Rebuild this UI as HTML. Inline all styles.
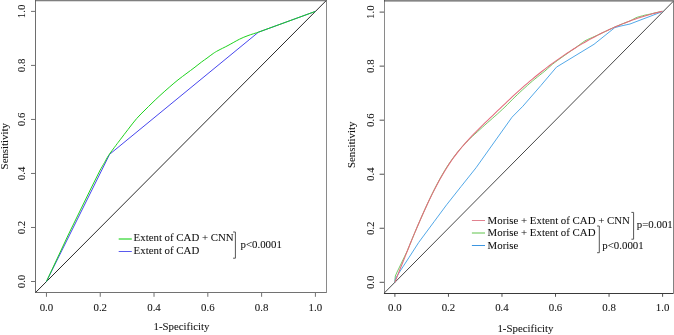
<!DOCTYPE html>
<html><head><meta charset="utf-8"><style>
html,body{margin:0;padding:0;background:#fff;}
svg{display:block;will-change:transform;}
text{font-family:"Liberation Serif",serif;font-size:10.85px;fill:#111;stroke:#111;stroke-width:0.06px;}
</style></head><body>
<svg width="674" height="335" viewBox="0 0 674 335">
<rect width="674" height="335" fill="#fff"/>
<!-- LEFT CHART -->
<g fill="none" stroke-width="1">
<line x1="35.5" y1="0" x2="35.5" y2="293" stroke="#6e6e6e"/>
<line x1="35" y1="292.5" x2="327" y2="292.5" stroke="#727272"/>
<line x1="35" y1="0.72" x2="327" y2="0.72" stroke="#5c5c5c"/>
<line x1="326.5" y1="0" x2="326.5" y2="293" stroke="#8a8a8a"/>
<line x1="35.7" y1="292.4" x2="326.2" y2="0.6" stroke="#2a2a2a"/>
<g stroke="#707070">
<line x1="46.45" y1="293" x2="46.45" y2="296.8" />
<line x1="31" y1="281.50" x2="35" y2="281.50" />
<line x1="100.24" y1="293" x2="100.24" y2="296.8" />
<line x1="31" y1="227.48" x2="35" y2="227.48" />
<line x1="154.03" y1="293" x2="154.03" y2="296.8" />
<line x1="31" y1="173.46" x2="35" y2="173.46" />
<line x1="207.82" y1="293" x2="207.82" y2="296.8" />
<line x1="31" y1="119.44" x2="35" y2="119.44" />
<line x1="261.61" y1="293" x2="261.61" y2="296.8" />
<line x1="31" y1="65.42" x2="35" y2="65.42" />
<line x1="315.40" y1="293" x2="315.40" y2="296.8" />
<line x1="31" y1="11.40" x2="35" y2="11.40" />
</g>
</g>
<polyline fill="none" stroke="#4646ee" stroke-width="1" points="46.45,281.50 109.60,154.30 258.40,32.20 315.40,11.40"/>
<path fill="none" stroke="#1ed21e" stroke-width="1" d="M46.45,281.50 L68.20,235.00 L91.20,188.00 L100.20,170.00 L100.20,170.00 C100.92,168.77 103.10,165.03 104.50,162.60 C105.90,160.17 106.70,158.27 108.60,155.40 C110.50,152.53 113.90,148.10 115.90,145.40 C117.90,142.70 118.58,141.85 120.60,139.20 C122.62,136.55 125.32,132.95 128.00,129.50 C130.68,126.05 133.87,121.75 136.70,118.50 C139.53,115.25 142.45,112.57 145.00,110.00 C147.55,107.43 149.50,105.52 152.00,103.10 C154.50,100.68 157.03,98.22 160.00,95.50 C162.97,92.78 166.80,89.40 169.80,86.80 C172.80,84.20 175.13,82.18 178.00,79.90 C180.87,77.62 184.33,75.10 187.00,73.10 C189.67,71.10 191.55,69.77 194.00,67.90 C196.45,66.03 199.53,63.53 201.70,61.90 C203.87,60.27 205.08,59.50 207.00,58.10 C208.92,56.70 211.37,54.75 213.20,53.50 C215.03,52.25 215.53,51.93 218.00,50.60 C220.47,49.27 224.42,47.40 228.00,45.50 C231.58,43.60 236.17,40.85 239.50,39.20 C242.83,37.55 244.85,36.77 248.00,35.60 C251.15,34.43 256.67,32.77 258.40,32.20 L258.40,32.20 L315.40,11.40 "/>
<g>
<text x="46.45" y="311.3" text-anchor="middle">0.0</text>
<text x="100.24" y="311.3" text-anchor="middle">0.2</text>
<text x="154.03" y="311.3" text-anchor="middle">0.4</text>
<text x="207.82" y="311.3" text-anchor="middle">0.6</text>
<text x="261.61" y="311.3" text-anchor="middle">0.8</text>
<text x="315.40" y="311.3" text-anchor="middle">1.0</text>
<text transform="translate(24.6,281.50) rotate(-90)" text-anchor="middle">0.0</text>
<text transform="translate(24.6,227.48) rotate(-90)" text-anchor="middle">0.2</text>
<text transform="translate(24.6,173.46) rotate(-90)" text-anchor="middle">0.4</text>
<text transform="translate(24.6,119.44) rotate(-90)" text-anchor="middle">0.6</text>
<text transform="translate(24.6,65.42) rotate(-90)" text-anchor="middle">0.8</text>
<text transform="translate(24.6,11.40) rotate(-90)" text-anchor="middle">1.0</text>
<text x="181.5" y="330" text-anchor="middle">1-Specificity</text>
<text transform="translate(8.1,146.2) rotate(-90)" text-anchor="middle">Sensitivity</text>
</g>
<!-- left legend -->
<line x1="118.7" y1="239" x2="131.8" y2="239" stroke="#00cd00" stroke-width="1"/>
<line x1="118.7" y1="251.5" x2="131.8" y2="251.5" stroke="#5a5aee" stroke-width="1"/>
<text x="133.6" y="241.3">Extent of CAD + CNN</text>
<text x="133.6" y="254">Extent of CAD</text>
<polyline fill="none" stroke="#555" stroke-width="1" points="233.1,232 235.4,232 235.4,258.2 233.1,258.2"/>
<text x="240.5" y="247.7">p&lt;0.0001</text>

<!-- RIGHT CHART -->
<g fill="none" stroke-width="1">
<line x1="384.5" y1="0" x2="384.5" y2="294" stroke="#8a8a8a"/>
<line x1="384" y1="293.5" x2="674" y2="293.5" stroke="#3a3a3a"/>
<line x1="384" y1="0.9" x2="674" y2="0.9" stroke="#373737"/>
<line x1="673.5" y1="0" x2="673.5" y2="294" stroke="#828282"/>
<line x1="384.2" y1="293.1" x2="673.3" y2="1.3" stroke="#474747"/>
<g stroke="#505050">
<line x1="394.90" y1="294" x2="394.90" y2="296.8" />
<line x1="379.6" y1="282.30" x2="384" y2="282.30" />
<line x1="448.44" y1="294" x2="448.44" y2="296.8" />
<line x1="379.6" y1="228.26" x2="384" y2="228.26" />
<line x1="501.98" y1="294" x2="501.98" y2="296.8" />
<line x1="379.6" y1="174.22" x2="384" y2="174.22" />
<line x1="555.52" y1="294" x2="555.52" y2="296.8" />
<line x1="379.6" y1="120.18" x2="384" y2="120.18" />
<line x1="609.06" y1="294" x2="609.06" y2="296.8" />
<line x1="379.6" y1="66.14" x2="384" y2="66.14" />
<line x1="662.60" y1="294" x2="662.60" y2="296.8" />
<line x1="379.6" y1="12.10" x2="384" y2="12.10" />
</g>
</g>
<path fill="none" stroke="#5cc04c" stroke-width="0.85" d="M394.90,282.30 L395.30,276.00 L397.10,272.00 L404.70,256.30 L407.40,250.70 L409.90,244.53 L412.40,238.42 L414.90,232.41 L417.40,226.49 L419.90,220.69 L422.40,215.00 L424.90,209.38 L427.40,203.86 L429.90,198.50 L432.40,193.32 L434.90,188.34 L437.40,183.53 L439.90,178.90 L442.40,174.46 L444.90,170.22 L447.40,166.23 L449.90,162.48 L452.40,158.93 L454.90,155.55 L457.40,152.34 L459.90,149.35 L462.40,146.49 L464.90,143.74 L467.40,141.09 L469.90,138.64 L472.40,136.30 L474.90,134.02 L477.40,131.79 L479.90,129.51 L482.40,127.24 L484.90,124.99 L487.40,122.78 L489.90,120.58 L492.40,118.39 L494.90,116.19 L497.40,113.97 L499.90,111.66 L502.40,109.36 L504.90,107.07 L507.40,104.53 L509.90,102.00 L512.40,99.50 L514.90,97.06 L517.40,94.65 L519.90,92.27 L522.40,89.96 L524.90,87.69 L527.40,85.44 L529.90,83.23 L532.40,81.07 L534.90,79.00 L537.40,76.97 L539.90,74.97 L542.40,73.00 L544.90,71.06 L547.40,68.79 L549.90,66.54 L552.40,64.32 L554.90,62.37 L557.40,60.52 L559.90,58.71 L562.40,56.93 L564.90,55.18 L567.40,53.41 L569.90,51.64 L572.40,49.90 L574.90,48.19 L577.40,46.33 L579.90,44.48 L582.40,42.67 L584.90,40.89 L587.40,39.59 L589.90,38.50 L592.40,37.44 L594.90,36.31 L597.40,35.18 L599.90,34.08 L602.40,32.84 L604.90,31.62 L607.40,30.43 L609.90,29.27 L612.40,28.14 L614.90,27.03 L617.40,25.95 L619.90,24.90 L622.40,23.88 L624.90,22.89 L627.40,21.92 L629.90,20.99 L632.40,19.74 L634.90,18.26 L637.40,17.20 L639.90,16.49 L642.40,15.80 L644.90,15.14 L647.40,14.63 L649.90,14.17 L652.40,13.54 L654.90,12.94 L657.40,12.36 L659.90,11.81 L662.40,11.28 "/>
<polyline fill="none" stroke="#52a8e8" stroke-width="1" points="394.90,282.30 395.40,278.60 399.55,272.00 409.20,257.20 418.80,242.30 434.00,221.80 446.60,204.80 461.00,186.60 476.00,167.80 512.00,117.20 522.90,106.20 540.80,85.60 556.50,67.10 594.00,44.30 614.80,27.60 620.00,26.20 630.00,24.00 642.00,19.40 650.00,16.40 662.40,11.50"/>
<path fill="none" stroke="#e36c7d" stroke-width="1.05" d="M394.90,282.29 L397.40,275.92 L399.90,269.56 L402.40,263.23 L404.90,256.94 L407.40,250.70 L409.90,244.53 L412.40,238.42 L414.90,232.41 L417.40,226.49 L419.90,220.69 L422.40,215.00 L424.90,209.45 L427.40,204.03 L429.90,198.76 L432.40,193.64 L434.90,188.69 L437.40,183.91 L439.90,179.32 L442.40,174.91 L444.90,170.70 L447.40,166.70 L449.90,162.91 L452.40,159.31 L454.90,155.88 L457.40,152.62 L459.90,149.49 L462.40,146.50 L464.90,143.61 L467.40,140.82 L469.90,138.11 L472.40,135.47 L474.90,132.89 L477.40,130.36 L479.90,127.87 L482.40,125.42 L484.90,122.99 L487.40,120.58 L489.90,118.18 L492.40,115.77 L494.90,113.36 L497.40,110.95 L499.90,108.55 L502.40,106.16 L504.90,103.77 L507.40,101.40 L509.90,99.05 L512.40,96.72 L514.90,94.41 L517.40,92.12 L519.90,89.87 L522.40,87.64 L524.90,85.45 L527.40,83.29 L529.90,81.16 L532.40,79.07 L534.90,77.00 L537.40,74.97 L539.90,72.97 L542.40,71.00 L544.90,69.06 L547.40,67.15 L549.90,65.27 L552.40,63.43 L554.90,61.61 L557.40,59.83 L559.90,58.07 L562.40,56.35 L564.90,54.66 L567.40,52.99 L569.90,51.36 L572.40,49.76 L574.90,48.19 L577.40,46.64 L579.90,45.13 L582.40,43.65 L584.90,42.19 L587.40,40.77 L589.90,39.38 L592.40,38.01 L594.90,36.68 L597.40,35.37 L599.90,34.09 L602.40,32.84 L604.90,31.62 L607.40,30.43 L609.90,29.27 L612.40,28.14 L614.90,27.03 L617.40,25.95 L619.90,24.90 L622.40,23.88 L624.90,22.89 L627.40,21.92 L629.90,20.99 L632.40,20.08 L634.90,19.19 L637.40,18.34 L639.90,17.51 L642.40,16.71 L644.90,15.94 L647.40,15.19 L649.90,14.48 L652.40,13.78 L654.90,13.12 L657.40,12.48 L659.90,11.87 L662.40,11.28 "/>
<g>
<text x="394.90" y="310.5" text-anchor="middle">0.0</text>
<text x="448.44" y="310.5" text-anchor="middle">0.2</text>
<text x="501.98" y="310.5" text-anchor="middle">0.4</text>
<text x="555.52" y="310.5" text-anchor="middle">0.6</text>
<text x="609.06" y="310.5" text-anchor="middle">0.8</text>
<text x="662.60" y="310.5" text-anchor="middle">1.0</text>
<text transform="translate(373.6,282.30) rotate(-90)" text-anchor="middle">0.0</text>
<text transform="translate(373.6,228.26) rotate(-90)" text-anchor="middle">0.2</text>
<text transform="translate(373.6,174.22) rotate(-90)" text-anchor="middle">0.4</text>
<text transform="translate(373.6,120.18) rotate(-90)" text-anchor="middle">0.6</text>
<text transform="translate(373.6,66.14) rotate(-90)" text-anchor="middle">0.8</text>
<text transform="translate(373.6,12.10) rotate(-90)" text-anchor="middle">1.0</text>
<text x="525.4" y="332.1" text-anchor="middle">1-Specificity</text>
<text transform="translate(355.4,144.8) rotate(-90)" text-anchor="middle">Sensitivity</text>
</g>
<!-- right legend -->
<line x1="471.9" y1="220.5" x2="485" y2="220.5" stroke="#e1828f" stroke-width="1"/>
<line x1="471.9" y1="233" x2="485" y2="233" stroke="#5fc34b" stroke-width="1"/>
<line x1="471.9" y1="245.5" x2="485" y2="245.5" stroke="#3c96e1" stroke-width="1"/>
<text x="487.6" y="223.5">Morise + Extent of CAD + CNN</text>
<text x="487.6" y="236.3">Morise + Extent of CAD</text>
<text x="487.6" y="248.8">Morise</text>
<polyline fill="none" stroke="#555" stroke-width="1" points="631.4,212.4 633.6,212.4 633.6,239.2 631.4,239.2"/>
<text x="636.8" y="227.6">p=0.001</text>
<polyline fill="none" stroke="#555" stroke-width="1" points="597.1,226 599.3,226 599.3,252.7 597.1,252.7"/>
<text x="602.3" y="248.5">p&lt;0.0001</text>
</svg>
</body></html>
